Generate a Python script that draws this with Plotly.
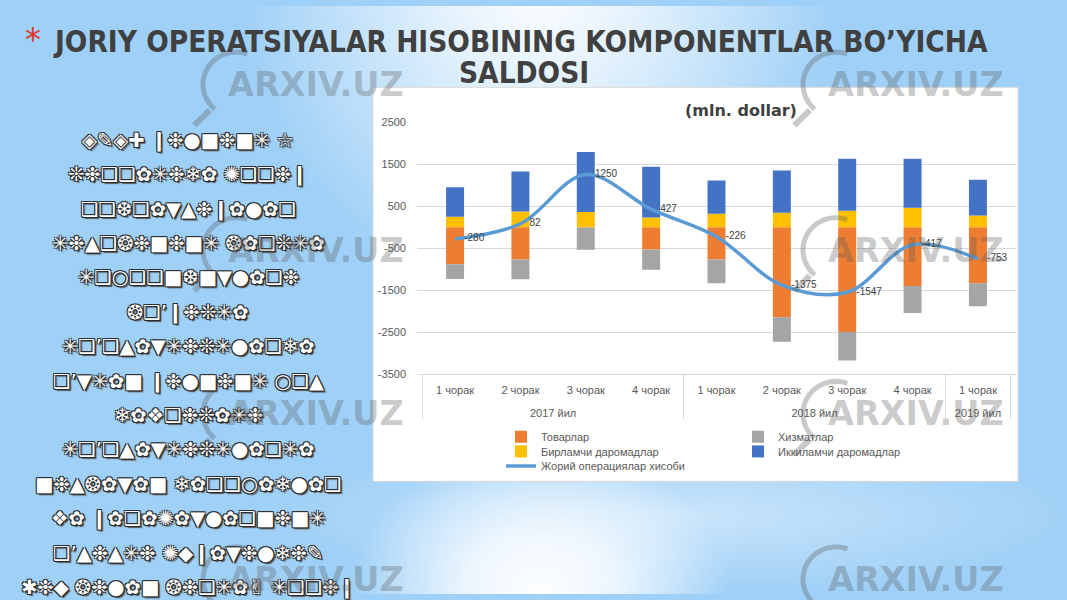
import math
import base64
import plotly.graph_objects as go

W, H = 1067, 600

# ---------------- data ----------------
years = ["2017 йил"] * 4 + ["2018 йил"] * 4 + ["2019 йил"]
quarters = ["1 чорак", "2 чорак", "3 чорак", "4 чорак",
            "1 чорак", "2 чорак", "3 чорак", "4 чорак", "1 чорак"]

goods = [-880, -770, 0, -530, -770, -2140, -2490, -1400, -1330]          # Товарлар
services = [-350, -470, -535, -480, -565, -580, -680, -640, -550]         # Хизматлар
primary = [250, 370, 362, 230, 320, 345, 390, 460, 275]                   # Бирламчи даромадлар
secondary = [700, 952, 1423, 1207, 789, 1000, 1233, 1163, 852]           # Иккиламчи даромадлар
current_account = [-280, 82, 1250, 427, -226, -1375, -1547, -417, -753]  # Жорий операциялар хисоби

y_tick_vals = [2500, 1500, 500, -500, -1500, -2500, -3500]
y_tick_text = ["2500", "1500", "500", "-500", "-1500", "-2500", "-3500"]

series_names = ["Товарлар", "Хизматлар", "Бирламчи даромадлар", "Иккиламчи даромадлар"]
line_name = "Жорий операциялар хисоби"

slide_title_1 = "JORIY OPERATSIYALAR HISOBINING KOMPONENTLAR BO’YICHA"
slide_title_2 = "SALDOSI"
chart_title = "(mln. dollar)"
watermark = "ARXIV.UZ"

left_lines = [
    "◈✎◈✚ ❙❉●■❉■✳ ☆",
    "❊❉❑❑✿✳❉❄✿ ✺❑❑❉❙",
    "❑❑❆❑✿▼▲❉❙✿●✿❑",
    "✳❉▲❑❂❉■❉■✳ ❂✿❑❊✳✿",
    "✳❑○❑❑■❆■▼●✿❑❉",
    "❂❑’❙❉❊✳✿",
    "✳❑’❑▲✿▼✳❉❊✳●✿❑❄✿",
    "❑’▼✳✿■ ❙❉●■❉■✳ ○❑▲",
    "❄✿❖❑❉❊✿✳❉",
    "✳❑’❑▲✿▼✳❉❊✳●✿❑✳✿",
    "■❉▲❂✿▼✿■ ❄✿❑❑○✿❄●✿❑",
    "❖✿ ❙✿❑✿✺✿▼●✿❑■❉■✳",
    "❑’▲❉▲✳❉ ✺◆❙✿▼❉●❄❉✎",
    "✱❉◆ ❂❉●✿■ ❂❉❑✳✿✌ ✳❑❑❉❙",
]

# ---------------- helpers (pixel -> paper) ----------------
def fx(x):
    return x / W


def fy(y):
    return 1 - y / H


# ---------------- background (slide) ----------------
bg_svg = f'''<svg xmlns="http://www.w3.org/2000/svg" width="{W}" height="{H}" viewBox="0 0 {W} {H}">
<defs>
<radialGradient id="gt" gradientUnits="userSpaceOnUse" cx="0" cy="0" r="1" gradientTransform="translate(540 -30) scale(300 340)">
<stop offset="0" stop-color="#ffffff" stop-opacity="1"/>
<stop offset="0.35" stop-color="#ffffff" stop-opacity="0.7"/>
<stop offset="1" stop-color="#ffffff" stop-opacity="0"/>
</radialGradient>
<radialGradient id="gb" gradientUnits="userSpaceOnUse" cx="0" cy="0" r="1" gradientTransform="translate(540 600) scale(190 150)">
<stop offset="0" stop-color="#ffffff" stop-opacity="1"/>
<stop offset="0.4" stop-color="#ffffff" stop-opacity="0.8"/>
<stop offset="1" stop-color="#ffffff" stop-opacity="0"/>
</radialGradient>
<radialGradient id="gs" gradientUnits="userSpaceOnUse" cx="0" cy="0" r="1" gradientTransform="translate(680 520) scale(420 80)">
<stop offset="0" stop-color="#ffffff" stop-opacity="0.45"/>
<stop offset="1" stop-color="#ffffff" stop-opacity="0"/>
</radialGradient>
</defs>
<rect x="0" y="0" width="{W}" height="{H}" fill="#9FD0F7"/>
<rect x="0" y="0" width="{W}" height="{H}" fill="url(#gs)"/>
<rect x="0" y="0" width="{W}" height="{H}" fill="url(#gt)"/>
<rect x="0" y="0" width="{W}" height="{H}" fill="url(#gb)"/>
</svg>'''
bg_uri = "data:image/svg+xml;base64," + base64.b64encode(bg_svg.encode("utf-8")).decode("ascii")

# ---------------- figure ----------------
fig = go.Figure()

year_labels = ["<br>" + y for y in years]

bar_colors = ["#ED7D31", "#A5A5A5", "#FFC000", "#4472C4"]
bar_values = [goods, services, primary, secondary]
for i, (name, vals, col) in enumerate(zip(series_names, bar_values, bar_colors)):
    fig.add_trace(go.Bar(
        x=[year_labels, quarters], y=vals, name=name,
        marker=dict(color=col, line=dict(width=0)),
        legend="legend" if i == 0 else f"legend{i + 1}",
        hoverinfo="skip",
    ))

fig.add_trace(go.Scatter(
    x=[year_labels, quarters], y=current_account, name=line_name,
    mode="lines+markers+text",
    line=dict(color="#5B9BD5", width=3.5, shape="spline", smoothing=1.0),
    marker=dict(size=13, color="rgba(0,0,0,0)"),
    text=[str(v) for v in current_account],
    textposition="middle right",
    textfont=dict(family="Liberation Sans", size=10, color="#404040"),
    legend="legend5",
    cliponaxis=False,
))

axis_font = dict(family="Liberation Sans", size=11, color="#595959")

legend_common = dict(bgcolor="rgba(0,0,0,0)", borderwidth=0, font=axis_font,
                     xanchor="left", yanchor="middle", orientation="v")
col1_x = fx(541 - 40)
col2_x = fx(778 - 40)

shapes = [
    # white chart area
    dict(type="rect", xref="paper", yref="paper", x0=fx(373), x1=fx(1018), y0=fy(485), y1=fy(83),
         fillcolor="#FFFFFF", line=dict(color="#D9D9D9", width=1), layer="below"),
]

def ann(text, x, y, font):
    return dict(text=text, x=fx(x), y=fy(y), xref="paper", yref="paper", showarrow=False,
                xanchor="center", yanchor="middle", font=font)

annotations = [
    ann("*", 33, 34, dict(family="DejaVu Sans", size=32, color="#E0302A")),
    ann(slide_title_1, 520, 37, dict(family="DejaVu Sans Condensed", size=29.5, color="#404040", weight=700)),
    ann(slide_title_2, 524, 68, dict(family="DejaVu Sans Condensed", size=29.5, color="#404040", weight=700)),
    ann(chart_title, 741, 107, dict(family="DejaVu Sans", size=16, color="#404040", weight=700)),
]

outline = "-1px -1px 0 #2a2a2a, 1px -1px 0 #2a2a2a, -1px 1px 0 #2a2a2a, 1px 1px 0 #2a2a2a, 2px 2px 1px #555"
for i, line in enumerate(left_lines):
    annotations.append(ann(line, 188, 137 + 35.1 * i,
                           dict(family="DejaVu Sans", size=19.5, color="#FFFFFF", shadow=outline)))

# watermarks
wm_color = "rgba(90,90,90,0.33)"
for cx in (316, 916):
    for cy in (80, 249, 416, 585):
        annotations.append(ann(watermark, cx, cy,
                               dict(family="DejaVu Sans", size=33.5, color=wm_color, weight=700)))
        gx, gy, r = cx - 80, cy, 33
        pts = []
        for k in range(31):
            a = math.radians(70 + 160 * k / 30)
            pts.append((fx(gx + r * math.cos(a)), fy(gy - r * math.sin(a))))
        path = "M " + " L ".join(f"{px:.5f},{py:.5f}" for px, py in pts)
        shapes.append(dict(type="path", xref="paper", yref="paper", path=path,
                           line=dict(color=wm_color, width=5), layer="above"))
        a = math.radians(225)
        shapes.append(dict(type="line", xref="paper", yref="paper",
                           x0=fx(gx + (r + 4) * math.cos(a)), y0=fy(gy - (r + 4) * math.sin(a)),
                           x1=fx(gx + (r + 26) * math.cos(a)), y1=fy(gy - (r + 26) * math.sin(a)),
                           line=dict(color=wm_color, width=6), layer="above"))

fig.update_layout(
    width=W, height=H,
    margin=dict(l=0, r=0, t=0, b=0),
    paper_bgcolor="#9FD0F7",
    plot_bgcolor="rgba(0,0,0,0)",
    barmode="relative",
    bargap=0.725,
    showlegend=True,
    xaxis=dict(
        domain=[fx(417), fx(1016)], type="multicategory",
        showgrid=False, showline=True, linecolor="#D9D9D9", linewidth=1,
        showdividers=True, dividercolor="#D9D9D9", dividerwidth=1,
        ticks="", tickfont=axis_font, ticklabelstandoff=5,
    ),
    yaxis=dict(
        domain=[fy(376), fy(118.3)], range=[-3500, 2500],
        tickmode="array", tickvals=y_tick_vals, ticktext=y_tick_text,
        showgrid=True, gridcolor="#D9D9D9", gridwidth=1,
        zeroline=False, showline=False, ticks="", tickfont=axis_font,
        ticklabelstandoff=10,
    ),
    legend=dict(x=col1_x, y=fy(439.5), **legend_common),
    legend2=dict(x=col2_x, y=fy(439.5), **legend_common),
    legend3=dict(x=col1_x, y=fy(454.5), **legend_common),
    legend4=dict(x=col2_x, y=fy(454.5), **legend_common),
    legend5=dict(x=col1_x, y=fy(469.5), **legend_common),
    images=[dict(source=bg_uri, xref="paper", yref="paper", x=0, y=1, sizex=1, sizey=1,
                 xanchor="left", yanchor="top", sizing="stretch", layer="below")],
    shapes=shapes,
    annotations=annotations,
    hovermode=False,
)

fig.write_html("out.html", config={"displayModeBar": False},
               post_script="document.body.style.margin='0';document.body.style.overflow='hidden';")
